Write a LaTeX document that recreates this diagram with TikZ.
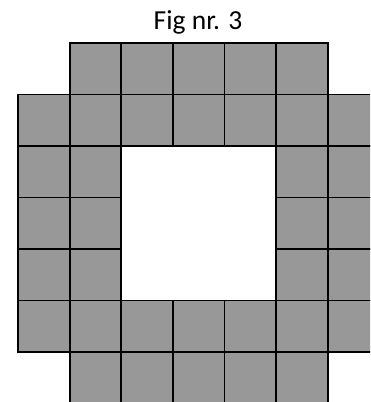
\documentclass[tikz,border=0pt]{standalone}
\usepackage{fontspec}
\setmainfont{Carlito}
\definecolor{cellgray}{HTML}{989898}
\tikzset{cell/.style={fill=cellgray,draw=black,line width=1.8pt}}
\begin{document}
\begin{tikzpicture}[x=1pt,y=-1pt]
\useasboundingbox (0,0) rectangle (370,402);
\clip (0,0) rectangle (370,402);
\def\cw{51.6}\def\ch{51.5}
\newcommand{\cellat}[2]{\draw[cell] ({18+#1*\cw},{43+#2*\ch}) rectangle ++(\cw,\ch);}
\foreach \c in {1,...,5} {\cellat{\c}{0}}
\foreach \c in {0,...,6} {\cellat{\c}{1}}
\foreach \r in {2,3,4} {\foreach \c in {0,1,5,6} {\cellat{\c}{\r}}}
\foreach \c in {0,...,6} {\cellat{\c}{5}}
\foreach \c in {1,...,5} {\cellat{\c}{6}}
\node[anchor=base,font=\fontsize{27.5}{30}\selectfont,inner sep=0pt] (title) at (198,29) {Fig nr. 3};
\end{tikzpicture}
\end{document}
